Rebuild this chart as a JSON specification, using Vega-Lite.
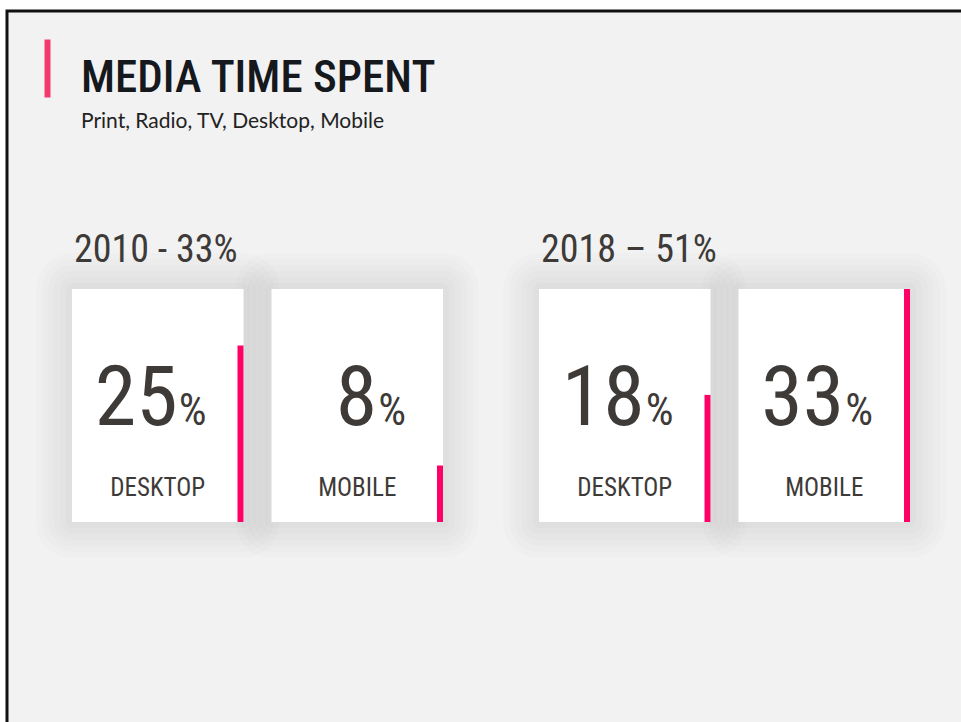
{
  "$schema": "https://vega.github.io/schema/vega-lite/v6.json",
  "usermeta": {"embedOptions": {"actions": false}},
  "width": 958,
  "height": 715,
  "autosize": {"type": "none"},
  "padding": {"left": 7, "top": 11, "right": -4, "bottom": -4},
  "background": "white",
  "config": {
    "view": {"fill": "#f2f2f2", "stroke": "#111111", "strokeWidth": 3},
    "font": "Roboto Condensed, Open Sans Condensed, Liberation Sans Narrow, DejaVu Sans Condensed, sans-serif",
    "scale": {"offsetBandPaddingInner": 0.1404, "offsetBandPaddingOuter": 0}
  },
  "title": {
    "text": "MEDIA TIME SPENT",
    "subtitle": "Print, Radio, TV, Desktop, Mobile",
    "anchor": "start",
    "frame": "group",
    "orient": "top",
    "offset": -121,
    "dx": 74,
    "font": "Roboto Condensed, Open Sans Condensed, Liberation Sans Narrow, DejaVu Sans Condensed, sans-serif",
    "fontSize": 45,
    "fontWeight": 500,
    "color": "#15181c",
    "subtitleFont": "Lato",
    "subtitleFontSize": 21,
    "subtitleColor": "#222222",
    "subtitlePadding": 10
  },
  "data": {
    "values": [
      {"year": "2010", "groupLabel": "2010 - 33%", "category": "DESKTOP", "value": 25},
      {"year": "2010", "groupLabel": "2010 - 33%", "category": "MOBILE", "value": 8},
      {"year": "2018", "groupLabel": "2018 – 51%", "category": "DESKTOP", "value": 18},
      {"year": "2018", "groupLabel": "2018 – 51%", "category": "MOBILE", "value": 33}
    ]
  },
  "transform": [{"joinaggregate": [{"op": "max", "field": "value", "as": "maxValue"}]}],
  "encoding": {
    "x": {
      "field": "year",
      "type": "nominal",
      "scale": {"range": [65, 903], "paddingInner": 0.2056, "paddingOuter": 0},
      "axis": {
        "orient": "top",
        "domain": false,
        "labels": false,
        "title": null,
        "grid": false,
        "values": ["2010"],
        "bandPosition": 0,
        "tickOffset": -25,
        "offset": -28,
        "tickSize": -58,
        "tickWidth": 6,
        "tickColor": "#f43a6c",
        "ticks": true
      }
    }
  },
  "resolve": {"scale": {"xOffset": "independent"}},
  "layer": [
    {
      "mark": {"type": "rect", "fillOpacity": 0, "stroke": "#000000", "strokeOpacity": 0.013, "strokeWidth": 72, "strokeJoin": "round"},
      "encoding": {
        "xOffset": {"field": "category", "type": "nominal", "scale": {"type": "band"}},
        "y": {"field": "maxValue", "type": "quantitative", "scale": {"range": [511, 278], "nice": false, "zero": true}, "axis": null},
        "y2": {"datum": 0}
      }
    },
    {
      "mark": {"type": "rect", "fillOpacity": 0, "stroke": "#000000", "strokeOpacity": 0.013, "strokeWidth": 60, "strokeJoin": "round"},
      "encoding": {"xOffset": {"field": "category", "type": "nominal", "scale": {"type": "band"}}, "y": {"field": "maxValue", "type": "quantitative"}, "y2": {"datum": 0}}
    },
    {
      "mark": {"type": "rect", "fillOpacity": 0, "stroke": "#000000", "strokeOpacity": 0.013, "strokeWidth": 48, "strokeJoin": "round"},
      "encoding": {"xOffset": {"field": "category", "type": "nominal", "scale": {"type": "band"}}, "y": {"field": "maxValue", "type": "quantitative"}, "y2": {"datum": 0}}
    },
    {
      "mark": {"type": "rect", "fillOpacity": 0, "stroke": "#000000", "strokeOpacity": 0.013, "strokeWidth": 36, "strokeJoin": "round"},
      "encoding": {"xOffset": {"field": "category", "type": "nominal", "scale": {"type": "band"}}, "y": {"field": "maxValue", "type": "quantitative"}, "y2": {"datum": 0}}
    },
    {
      "mark": {"type": "rect", "fillOpacity": 0, "stroke": "#000000", "strokeOpacity": 0.013, "strokeWidth": 24, "strokeJoin": "round"},
      "encoding": {"xOffset": {"field": "category", "type": "nominal", "scale": {"type": "band"}}, "y": {"field": "maxValue", "type": "quantitative"}, "y2": {"datum": 0}}
    },
    {
      "mark": {"type": "rect", "fillOpacity": 0, "stroke": "#000000", "strokeOpacity": 0.015, "strokeWidth": 12, "strokeJoin": "round"},
      "encoding": {"xOffset": {"field": "category", "type": "nominal", "scale": {"type": "band"}}, "y": {"field": "maxValue", "type": "quantitative"}, "y2": {"datum": 0}}
    },
    {
      "mark": {"type": "rect", "fill": "#ffffff"},
      "encoding": {"xOffset": {"field": "category", "type": "nominal", "scale": {"type": "band"}}, "y": {"field": "maxValue", "type": "quantitative"}, "y2": {"datum": 0}}
    },
    {
      "mark": {"type": "rect", "color": "#ff0066"},
      "encoding": {
        "xOffset": {"field": "category", "type": "nominal", "scale": {"type": "band", "range": [165.5, 371], "paddingInner": 0.97, "paddingOuter": 0}},
        "y": {"field": "value", "type": "quantitative"},
        "y2": {"datum": 0}
      }
    },
    {
      "mark": {"type": "text", "align": "right", "baseline": "alphabetic", "fontSize": 84, "dx": 20, "dy": -97, "color": "#3d3a38"},
      "encoding": {"xOffset": {"field": "category", "type": "nominal", "scale": {"type": "band"}}, "y": {"datum": 0}, "text": {"field": "value", "type": "quantitative"}}
    },
    {
      "mark": {"type": "text", "align": "left", "baseline": "alphabetic", "fontSize": 44, "dx": 21, "dy": -97, "color": "#3d3a38"},
      "encoding": {"xOffset": {"field": "category", "type": "nominal", "scale": {"type": "band"}}, "y": {"datum": 0}, "text": {"value": "%"}}
    },
    {
      "mark": {"type": "text", "align": "center", "baseline": "alphabetic", "fontSize": 25, "dy": -26, "color": "#3d3a38"},
      "encoding": {"xOffset": {"field": "category", "type": "nominal", "scale": {"type": "band"}}, "y": {"datum": 0}, "text": {"field": "category", "type": "nominal"}}
    },
    {
      "transform": [{"filter": "datum.category === 'DESKTOP'"}],
      "mark": {"type": "text", "align": "left", "baseline": "alphabetic", "fontSize": 38, "dx": 2, "dy": -27, "color": "#3d3a38"},
      "encoding": {
        "x": {"field": "year", "type": "nominal", "bandPosition": 0},
        "y": {"field": "maxValue", "type": "quantitative"},
        "text": {"field": "groupLabel", "type": "nominal"}
      }
    }
  ]
}
